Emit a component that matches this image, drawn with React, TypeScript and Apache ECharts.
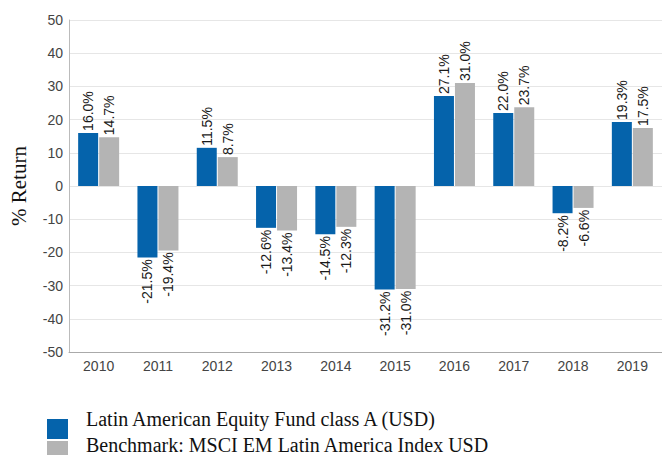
import React, { useEffect, useRef } from "react";
import * as echarts from "echarts";

const categories = ["2010", "2011", "2012", "2013", "2014", "2015", "2016", "2017", "2018", "2019"];
const fundValues = [16.0, -21.5, 11.5, -12.6, -14.5, -31.2, 27.1, 22.0, -8.2, 19.3];
const benchValues = [14.7, -19.4, 8.7, -13.4, -12.3, -31.0, 31.0, 23.7, -6.6, 17.5];
const fundName = "Latin American Equity Fund class A (USD)";
const benchName = "Benchmark: MSCI EM Latin America Index USD";
const fundColor = "#0563ab";
const benchColor = "#b4b4b4";

const labelFor = (v: number) =>
  v >= 0
    ? { show: true, position: "top", rotate: 90, align: "left", verticalAlign: "middle", distance: 2 }
    : { show: true, position: "bottom", rotate: 90, align: "right", verticalAlign: "middle", distance: 2 };

const toData = (arr: number[]) => arr.map((v) => ({ value: v, label: labelFor(v) }));

const serif = "Liberation Serif, Times New Roman, serif";
const sans = "Liberation Sans, Arial, sans-serif";

export default function App() {
  const ref = useRef<HTMLDivElement>(null);
  useEffect(() => {
    if (!ref.current) return;
    const chart = echarts.init(ref.current, null, { renderer: "svg" });
    const labelStyle = {
      fontFamily: sans,
      fontSize: 14,
      color: "#1a1a1a",
      formatter: (p: any) => Number(p.value).toFixed(1) + "%",
    };
    chart.setOption({
      animation: false,
      grid: { left: 68, top: 20, width: 600, height: 332, containLabel: false },
      graphic: [
        { type: "rect", shape: { x: 47, y: 419, width: 21, height: 20 }, style: { fill: fundColor } },
        { type: "rect", shape: { x: 47, y: 441, width: 21, height: 21 }, style: { fill: benchColor } },
        {
          type: "text",
          x: 86,
          y: 419,
          style: { text: fundName, fontFamily: serif, fontSize: 20, fill: "#111", verticalAlign: "middle" },
        },
        {
          type: "text",
          x: 86,
          y: 445,
          style: { text: benchName, fontFamily: serif, fontSize: 20, fill: "#111", verticalAlign: "middle" },
        },
      ],
      xAxis: {
        type: "category",
        data: categories,
        axisLine: { onZero: false, lineStyle: { color: "#aaaaaa" } },
        axisTick: { show: false },
        axisLabel: { fontFamily: sans, fontSize: 14, color: "#444", margin: 7 },
      },
      yAxis: {
        type: "value",
        min: -50,
        max: 50,
        interval: 10,
        name: "% Return",
        nameLocation: "middle",
        nameGap: 40,
        nameTextStyle: { fontFamily: serif, fontSize: 21, color: "#111" },
        axisLine: { show: true, lineStyle: { color: "#bbbbbb" } },
        axisTick: { show: false },
        axisLabel: { fontFamily: sans, fontSize: 14, color: "#444", margin: 6 },
        splitLine: { lineStyle: { color: "#e6e6e6" } },
      },
      series: [
        {
          name: fundName,
          type: "bar",
          data: toData(fundValues),
          barWidth: 20,
          barGap: "5%",
          itemStyle: { color: fundColor },
          label: labelStyle,
        },
        {
          name: benchName,
          type: "bar",
          data: toData(benchValues),
          barWidth: 20,
          itemStyle: { color: benchColor },
          label: labelStyle,
        },
      ],
    });
    return () => chart.dispose();
  }, []);
  return (
    <div
      ref={ref}
      style={{ position: "absolute", left: 0, top: 0, width: 662, height: 455, overflow: "hidden" }}
    />
  );
}
